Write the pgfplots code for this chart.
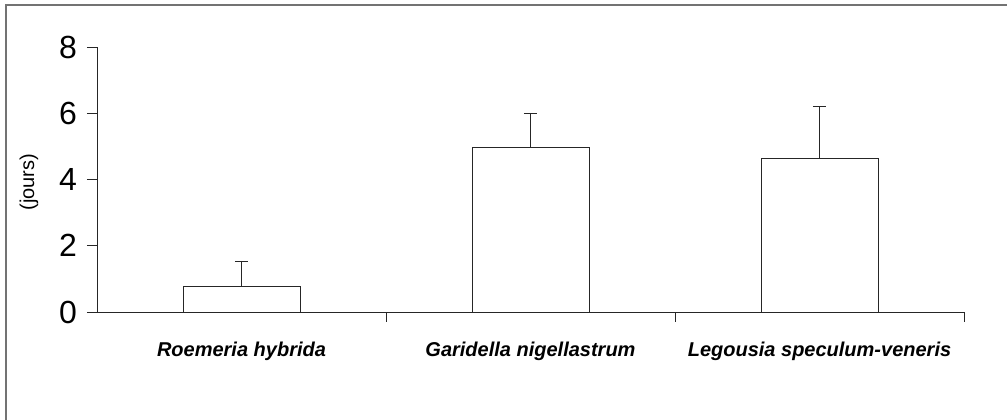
\documentclass[border=0pt]{standalone}
\usepackage{fontspec}
\setmainfont{Liberation Sans}
\usepackage{pgfplots}
\pgfplotsset{compat=1.18}
\begin{document}
\begin{tikzpicture}[x=0.75pt,y=0.75pt]
\path[use as bounding box] (0,0) rectangle (1007,420);
\draw[black!55, line width=1.4pt] (6,0) -- (6,415) -- (1007,415);
\coordinate (A) at (97,108);
\begin{axis}[
  at={(A)}, anchor=south west, scale only axis,
  width=650.25pt, height=198.75pt,
  xmin=-0.5, xmax=2.5, ymin=0, ymax=8,
  axis x line=bottom, axis y line=left,
  axis line style={-, line width=0.6pt, black!85},
  tick align=outside, major tick length=7.5pt,
  tick style={line width=0.6pt, black!85},
  xtick={0.5,1.5,2.5}, xticklabels={},
  extra x ticks={0,1,2},
  extra x tick labels={Roemeria hybrida, Garidella nigellastrum, Legousia speculum-veneris},
  extra x tick style={major tick length=0pt,
    xticklabel style={font=\fontsize{15}{17}\selectfont\bfseries\itshape, yshift=-19pt}},
  ytick={0,2,4,6,8},
  yticklabel style={font=\fontsize{24}{27}\selectfont, xshift=-4pt},
  /pgf/number format/assume math mode=true,
  ylabel={(jours)},
  every axis y label/.style={at={(axis description cs:-0.0785,0.49)}, rotate=90, anchor=center, font=\fontsize{15}{17}\selectfont},
  clip=false,
]
\addplot[ybar, bar width=0.405, fill=white, draw=black!85, line width=0.6pt,
  error bars/.cd, y dir=plus, y explicit, error mark=-,
  error bar style={line width=0.6pt, black!85},
  error mark options={rotate=90, mark size=4.9pt, line width=0.6pt, black!85}]
  coordinates {(0,0.76) +- (0,0.78) (1,4.96) +- (0,1.05) (2,4.63) +- (0,1.57)};
\end{axis}
\end{tikzpicture}
\end{document}
